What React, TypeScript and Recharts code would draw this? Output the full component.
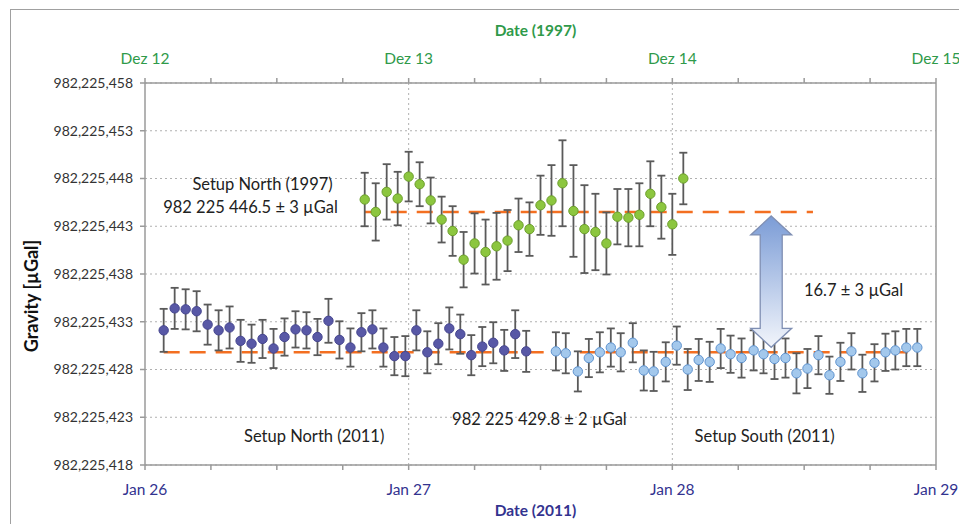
import React from 'react'
import {
  ComposedChart, Scatter, XAxis, YAxis, CartesianGrid, ErrorBar, ReferenceLine, ReferenceDot,
} from 'recharts'

// gravity values are stored as µGal above 982 225 000
const BASE = 982225000
const FONT = 'Lato, "Open Sans", sans-serif'

const GREEN = '#2f9a4a'
const NAVY = '#33338f'
const ORANGE = '#f36f21'

// 2011 north setup, hours after Jan 26 00:00
const northHours = [1.7, 2.7, 3.7, 4.7, 5.7, 6.7, 7.7, 8.7, 9.7, 10.7, 11.7, 12.7, 13.7, 14.7, 15.7, 16.7, 17.7,
  18.7, 19.7, 20.7, 21.7, 22.7, 23.7, 24.7, 25.7, 26.7, 27.7, 28.7, 29.7, 30.7, 31.7, 32.7, 33.7, 34.7]
const northValues = [432.1, 434.4, 434.3, 434.1, 432.7, 432.1, 432.4, 431.0, 430.7, 431.2, 430.2, 431.4, 432.2,
  432.1, 431.4, 433.1, 431.1, 430.3, 431.9, 432.2, 430.3, 429.4, 429.4, 432.1, 429.8, 430.7, 432.3, 431.7,
  429.5, 430.4, 430.8, 430.0, 431.7, 429.9]
const northErrors = [2.25, 2.15, 2.1, 2.1, 2.1, 2.1, 2.2, 2.2, 2.0, 2.0, 2.05, 1.95, 1.9, 1.9, 1.9, 2.3, 1.95,
  2.0, 2.0, 2.0, 2.0, 2.0, 2.1, 2.1, 2.2, 2.15, 2.2, 2.05, 2.1, 2.05, 2.15, 2.15, 2.5, 2.15]

// 2011 south setup, hours after Jan 26 00:00
const southHours = [37.4, 38.3, 39.4, 40.4, 41.4, 42.4, 43.3, 44.4, 45.4, 46.3, 47.4, 48.4, 49.4, 50.4, 51.4,
  52.4, 53.3, 54.3, 55.4, 56.3, 57.3, 58.3, 59.3, 60.3, 61.3, 62.3, 63.3, 64.3, 65.3, 66.4, 67.4, 68.3, 69.3, 70.3]
const southValues = [429.9, 429.7, 427.8, 429.2, 429.8, 430.3, 429.8, 430.8, 427.9, 427.8, 428.8, 430.5, 428.0,
  429.0, 428.8, 430.2, 429.6, 429.2, 430.0, 429.6, 429.1, 429.2, 427.6, 428.1, 429.5, 427.4, 428.8, 429.9,
  427.6, 428.7, 429.8, 430.0, 430.3, 430.3]
const southErrors = [2.0, 2.1, 2.1, 2.0, 2.1, 2.0, 2.0, 2.05, 2.1, 2.05, 2.05, 2.0, 2.15, 2.2, 2.1, 2.05, 1.95,
  2.05, 2.1, 2.0, 2.1, 2.05, 2.1, 2.05, 2.0, 1.95, 2.0, 1.9, 1.95, 1.95, 1.95, 2.0, 1.95, 1.95]

// 1997 north setup, hours after Dez 12 00:00
const northOldHours = [20, 21, 22, 23, 24, 25, 26, 27, 28, 29, 30, 31, 32, 33, 34, 35, 36, 37, 38, 39, 40, 41,
  42, 43, 44, 45, 46, 47, 48, 49]
const northOldValues = [445.8, 444.5, 446.6, 445.9, 448.2, 447.4, 445.7, 443.7, 442.5, 439.5, 441.2, 440.3,
  440.9, 441.5, 443.1, 442.7, 445.2, 445.7, 447.5, 444.6, 442.7, 442.4, 441.2, 444.0, 443.9, 444.2, 446.4,
  445.0, 443.2, 448.0]
const northOldErrors = [2.8, 3.0, 2.9, 2.8, 2.6, 2.3, 2.4, 2.4, 2.6, 2.9, 3.15, 3.4, 3.5, 3.2, 2.8, 2.8, 3.1,
  3.7, 4.5, 4.8, 4.6, 4.0, 3.25, 2.9, 3.0, 3.3, 3.4, 3.3, 3.2, 2.7]

// means as drawn, and the span (hours) of each dashed line
const mean2011 = 429.8
const mean1997 = 444.5
const span2011 = [1.7, 70.3]
const span1997 = [20, 60.8]
const arrowHour = 57

const dayTicks = [0, 0.25, 0.5, 0.75, 1, 1.25, 1.5, 1.75, 2, 2.25, 2.5, 2.75, 3]
const janLabels = ['Jan 26', 'Jan 27', 'Jan 28', 'Jan 29']
const dezLabels = ['Dez 12', 'Dez 13', 'Dez 14', 'Dez 15']
const gravityTicks = [418, 423, 428, 433, 438, 443, 448, 453, 458]

const notes = [
  { text: 'Setup North (1997)', hour: 10.7, value: 447.4 },
  { text: '982 225 446.5 ± 3 µGal', hour: 9.6, value: 445.0 },
  { text: '16.7 ± 3 µGal', hour: 64.5, value: 436.3 },
  { text: '982 225 429.8 ± 2 µGal', hour: 35.9, value: 422.8 },
  { text: 'Setup North (2011)', hour: 15.4, value: 421.0 },
  { text: 'Setup South (2011)', hour: 56.4, value: 421.0 },
]

const toRows = (hours: number[], values: number[], errors: number[]) =>
  hours.map((h, i) => ({ x: h / 24, y: values[i], err: errors[i] }))

const northData = toRows(northHours, northValues, northErrors)
const southData = toRows(southHours, southValues, southErrors)
const oldData = toRows(northOldHours, northOldValues, northOldErrors)

const dot = (fill: string, stroke: string) => (p: any) => (
  <circle cx={p.cx} cy={p.cy} r={4.7} fill={fill} stroke={stroke} strokeWidth={1} />
)

function GapArrow(props: any) {
  const { x1, y1, y2 } = props
  const top = y1 + 4
  const bot = y2 - 5
  const hw = 20.5
  const sw = 11
  const hh = 19
  const pts = [
    [x1, top], [x1 + hw, top + hh], [x1 + sw, top + hh], [x1 + sw, bot - hh], [x1 + hw, bot - hh],
    [x1, bot], [x1 - hw, bot - hh], [x1 - sw, bot - hh], [x1 - sw, top + hh], [x1 - hw, top + hh],
  ]
  return (
    <g>
      <defs>
        <linearGradient id="gapGrad" x1="0" y1="0" x2="0" y2="1">
          <stop offset="0%" stopColor="#7b9cd6" />
          <stop offset="100%" stopColor="#f2f5fb" />
        </linearGradient>
      </defs>
      <polygon points={pts.map(p => p.join(',')).join(' ')} fill="url(#gapGrad)" stroke="#7f8fb3" strokeWidth={1.3} />
    </g>
  )
}

const noteLabel = (text: string) => (props: any) => {
  const { viewBox } = props
  return (
    <text x={viewBox.x + viewBox.width / 2} y={viewBox.y + viewBox.height / 2} dy="0.35em"
      textAnchor="middle" fontSize={16.5} fontFamily={FONT} fill="#222">{text}</text>
  )
}

const axisTitle = (text: string, color: string, dx: number, dy: number) => (props: any) => {
  const { viewBox } = props
  return (
    <text x={viewBox.x + viewBox.width / 2 + dx} y={viewBox.y + dy} textAnchor="middle"
      fontSize={15.5} fontWeight={700} fontFamily={FONT} fill={color}>{text}</text>
  )
}

const yTitle = (props: any) => {
  const { viewBox } = props
  const cx = 32
  const cy = viewBox.y + viewBox.height / 2 + 22
  return (
    <text x={cx} y={cy} transform={`rotate(-90 ${cx} ${cy})`} dy="0.35em" textAnchor="middle"
      fontSize={18} fontWeight={700} fontFamily={FONT} fill="#111">Gravity [µGal]</text>
  )
}

export default function App() {
  return (
    <div style={{ position: 'fixed', left: 0, top: 0, width: 959, height: 524, overflow: 'hidden', background: '#fff' }}>
      <div style={{ position: 'absolute', left: 10, top: 9, width: 1000, height: 600, borderTop: '1.5px solid #a0a0a0', borderLeft: '1.5px solid #a0a0a0' }} />
      <div style={{ position: 'absolute', left: 0, top: 0 }}>
        <ComposedChart width={959} height={524} margin={{ top: 43, right: 23, bottom: 19, left: 0 }}>
          <CartesianGrid xAxisId="bottom" vertical={false} stroke="#b0b0b0" strokeDasharray="2 3" />
          <XAxis xAxisId="bottom" type="number" dataKey="x" domain={[0, 3]} ticks={dayTicks} interval={0}
            height={40} tickSize={5} tickMargin={14} stroke="#9a9a9a" strokeWidth={1.5}
            tick={{ fill: NAVY, fontSize: 15.5, fontFamily: FONT }}
            tickFormatter={(v: number) => (Number.isInteger(v) ? janLabels[v] : '')}
            label={axisTitle('Date (2011)', NAVY, -5, 51)} />
          <XAxis xAxisId="top" orientation="top" type="number" dataKey="x" domain={[0, 3]} ticks={dayTicks}
            interval={0} height={40} tickSize={5} tickMargin={14} stroke="#9a9a9a" strokeWidth={1.5}
            tick={{ fill: GREEN, fontSize: 15.5, fontFamily: FONT }}
            tickFormatter={(v: number) => (Number.isInteger(v) ? dezLabels[v] : '')}
            label={axisTitle('Date (1997)', GREEN, -5, -7)} />
          <YAxis type="number" domain={[418, 458]} ticks={gravityTicks} width={145} tickSize={5} tickMargin={7}
            stroke="#9a9a9a" strokeWidth={1.5} tick={{ fill: '#333', fontSize: 14, fontFamily: FONT }}
            tickFormatter={(v: number) => (BASE + v).toLocaleString('en-US')} label={yTitle} />

          <ReferenceLine xAxisId="bottom" x={1} stroke="#b0b0b0" strokeDasharray="2 3" />
          <ReferenceLine xAxisId="bottom" x={2} stroke="#b0b0b0" strokeDasharray="2 3" />
          <ReferenceLine xAxisId="bottom" x={3} stroke="#9a9a9a" strokeWidth={1.5} />

          <ReferenceLine xAxisId="bottom" segment={[{ x: span2011[0] / 24, y: mean2011 }, { x: span2011[1] / 24, y: mean2011 }]}
            stroke={ORANGE} strokeWidth={2.6} strokeDasharray="16 10" />
          <ReferenceLine xAxisId="top" segment={[{ x: span1997[0] / 24, y: mean1997 }, { x: span1997[1] / 24, y: mean1997 }]}
            stroke={ORANGE} strokeWidth={2.6} strokeDasharray="16 10" />

          <Scatter xAxisId="bottom" data={northData} dataKey="y" shape={dot('#5858a6', '#46468f')} isAnimationActive={false}>
            <ErrorBar dataKey="err" direction="y" width={4} stroke="#5a5a5a" strokeWidth={1.8} />
          </Scatter>
          <Scatter xAxisId="bottom" data={southData} dataKey="y" shape={dot('#a3c8ec', '#5f93cf')} isAnimationActive={false}>
            <ErrorBar dataKey="err" direction="y" width={4} stroke="#5a5a5a" strokeWidth={1.8} />
          </Scatter>
          <Scatter xAxisId="top" data={oldData} dataKey="y" shape={dot('#8cc63f', '#6c9e2c')} isAnimationActive={false}>
            <ErrorBar dataKey="err" direction="y" width={4} stroke="#5a5a5a" strokeWidth={1.8} />
          </Scatter>

          <ReferenceLine xAxisId="bottom" segment={[{ x: arrowHour / 24, y: mean1997 }, { x: arrowHour / 24, y: mean2011 }]}
            shape={GapArrow} />

          {notes.map(n => (
            <ReferenceDot key={n.text} xAxisId="bottom" x={n.hour / 24} y={n.value} r={0} fill="none" stroke="none"
              label={noteLabel(n.text)} />
          ))}
        </ComposedChart>
      </div>
    </div>
  )
}
